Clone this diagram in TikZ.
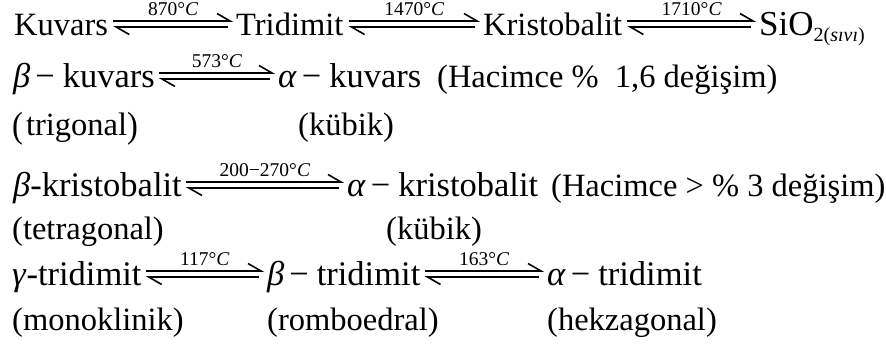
\documentclass[tikz,border=0pt]{standalone}
\usepackage{fontspec}
\setmainfont{Liberation Serif}
\usepackage{graphicx}
\usepackage{tikz}
\usetikzlibrary{arrows.meta, calc}

\begin{document}
\begin{tikzpicture}[x=1pt, y=1pt,
  phase/.style={inner sep=0pt, anchor=base west, font=\fontsize{32.5}{39}\selectfont},
  mphase/.style={phase, font=\fontsize{34.5}{40}\selectfont},
  temp/.style={inner sep=0pt, anchor=base, font=\fontsize{19.5}{22}\selectfont},
  harp/.style={line width=1.6pt, -{Straight Barb[harpoon, length=13pt, width=15pt]}}]

\fill[white] (0,0) rectangle (886,-349);
\useasboundingbox (0,0) rectangle (886,-349);

\node[phase] (kuvars) at (14,-35) {Kuvars};
\node[phase] (tridimit) at (236,-35) {Tridimit};
\node[phase] (kristobalit) at (483,-35) {Kristobalit};
\node[phase] (sio) at (759,-35) {\fontsize{35}{40}\selectfont SiO\raisebox{-6pt}{\fontsize{20}{22}\selectfont 2(\textit{sıvı})}};

\node[mphase] (bkuvars) at (13,-87) {\textit{β}\hspace{5pt}−\hspace{8pt}kuvars};
\node[mphase] (akuvars) at (278,-87) {\textit{α}\hspace{5pt}−\hspace{8pt}kuvars};
\node[phase] (hacim1) at (437,-87) {(Hacimce \%\ \ 1,6 değişim)};

\node[phase] (trigonal) at (12,-135) {\raisebox{-2pt}{\scalebox{1}[1.12]{(}}\hspace{3pt}trigonal\raisebox{-2pt}{\scalebox{1}[1.12]{)}}};
\node[phase] (kubik1) at (298,-135) {(kübik)};

\node[mphase] (bkrist) at (13,-196) {\textit{β}-kristobalit};
\node[mphase] (akrist) at (347,-196) {\textit{α}\hspace{5pt}−\hspace{8pt}kristobalit};
\node[phase] (hacim2) at (551,-196) {(Hacimce > \% 3 değişim)};

\node[phase] (tetra) at (12,-239) {(tetragonal)};
\node[phase] (kubik2) at (386,-239) {(kübik)};

\node[mphase] (gtrid) at (12,-285) {\textit{γ}-tridimit};
\node[mphase] (btrid) at (267,-285) {\textit{β}\hspace{5pt}−\hspace{8pt}tridimit};
\node[mphase] (atrid) at (547,-285) {\textit{α}\hspace{5pt}−\hspace{8pt}tridimit};

\node[phase] (monok) at (12,-330) {(monoklinik)};
\node[phase] (rombo) at (267,-330) {(romboedral)};
\node[phase] (hekza) at (547,-330) {(hekzagonal)};

\draw[harp] ($(kuvars.base east)+(5,14)$) -- ($(tridimit.base west)+(-3,14)$) node[temp, midway, yshift=6pt] {870°\textit{C}};
\draw[harp] ($(tridimit.base west)+(-8,8)$) -- ($(kuvars.base east)+(5,8)$);
\draw[harp] ($(tridimit.base east)+(5,14)$) -- ($(kristobalit.base west)+(-3,14)$) node[temp, midway, yshift=6pt] {1470°\textit{C}};
\draw[harp] ($(kristobalit.base west)+(-8,8)$) -- ($(tridimit.base east)+(5,8)$);
\draw[harp] ($(kristobalit.base east)+(5,14)$) -- ($(sio.base west)+(-3,14)$) node[temp, midway, yshift=6pt] {1710°\textit{C}};
\draw[harp] ($(sio.base west)+(-8,8)$) -- ($(kristobalit.base east)+(5,8)$);

\draw[harp] ($(bkuvars.base east)+(4,14)$) -- ($(akuvars.base west)+(-3,14)$) node[temp, midway, yshift=6pt] {573°\textit{C}};
\draw[harp] ($(akuvars.base west)+(-8,8)$) -- ($(bkuvars.base east)+(4,8)$);

\draw[harp] ($(bkrist.base east)+(4,14)$) -- ($(akrist.base west)+(-3,14)$) node[temp, midway, yshift=6pt] {200−270°\textit{C}};
\draw[harp] ($(akrist.base west)+(-8,8)$) -- ($(bkrist.base east)+(4,8)$);

\draw[harp] ($(gtrid.base east)+(4,14)$) -- ($(btrid.base west)+(-3,14)$) node[temp, midway, yshift=6pt] {117°\textit{C}};
\draw[harp] ($(btrid.base west)+(-8,8)$) -- ($(gtrid.base east)+(4,8)$);
\draw[harp] ($(btrid.base east)+(4,14)$) -- ($(atrid.base west)+(-3,14)$) node[temp, midway, yshift=6pt] {163°\textit{C}};
\draw[harp] ($(atrid.base west)+(-8,8)$) -- ($(btrid.base east)+(4,8)$);

\end{tikzpicture}
\end{document}
